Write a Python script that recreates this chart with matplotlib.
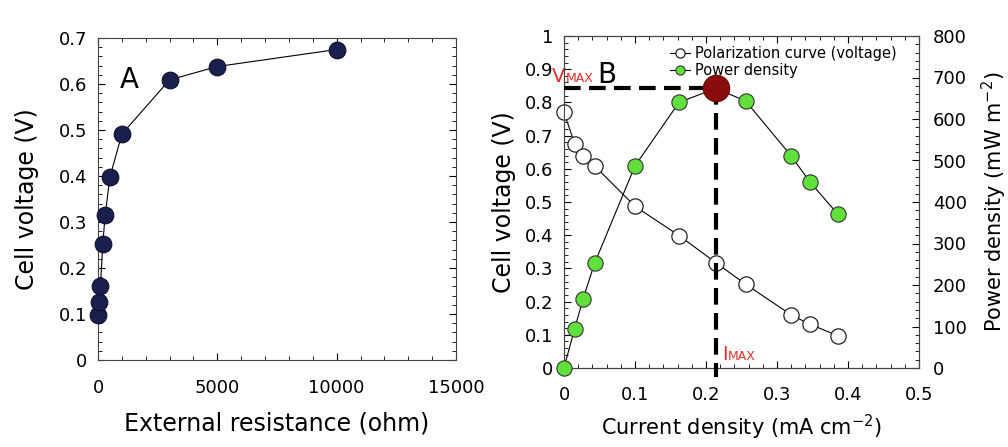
import matplotlib
matplotlib.use("Agg")
import matplotlib.pyplot as plt
from matplotlib.ticker import MultipleLocator, FuncFormatter

plt.rcParams['font.family'] = ['DejaVu Sans']
plt.rcParams['mathtext.default'] = 'regular'

# Panel A data
resistance = [20, 50, 100, 200, 300, 500, 1000, 3000, 5000, 10000]
cell_voltage_a = [0.097, 0.127, 0.160, 0.252, 0.315, 0.398, 0.491, 0.609, 0.638, 0.675]

# Panel B data
current = [0.0, 0.015, 0.027, 0.043, 0.100, 0.162, 0.214, 0.256, 0.320, 0.346, 0.386]
cell_voltage_b = [0.770, 0.676, 0.639, 0.609, 0.487, 0.399, 0.317, 0.252, 0.160, 0.132, 0.097]
power_density = [0, 95, 167, 252, 487, 640, 674, 643, 511, 449, 370]
I_MAX = 0.214
P_MAX = 674

fig = plt.figure(figsize=(10.08, 4.47), dpi=100)

# ---------------- Panel A ----------------
axA = fig.add_axes([98/1008, 1-360/447, 358/1008, 322/447])
axA.plot(resistance, cell_voltage_a, '-', color='black', lw=0.8, zorder=2)
axA.plot(resistance, cell_voltage_a, 'o', ms=12, mfc='#1b1f4e', mec='#0d0f2a', mew=0.8, zorder=3,
         clip_on=False)
axA.set_xlim(0, 15000)
axA.set_ylim(0, 0.7)
axA.xaxis.set_major_locator(MultipleLocator(5000))
axA.xaxis.set_minor_locator(MultipleLocator(1000))
axA.yaxis.set_major_locator(MultipleLocator(0.1))
axA.yaxis.set_minor_locator(MultipleLocator(0.02))
axA.yaxis.set_major_formatter(FuncFormatter(lambda v, p: '0' if abs(v) < 1e-9 else f'{v:.1f}'))
axA.tick_params(which='both', direction='in', top=True, right=True, labelsize=13)
axA.tick_params(which='major', length=5, pad=8)
axA.tick_params(axis='x', which='major', pad=14)
axA.tick_params(which='minor', length=3)
axA.set_xlabel('External resistance (ohm)', fontsize=17, labelpad=10)
axA.set_ylabel('Cell voltage (V)', fontsize=17)
axA.yaxis.set_label_coords(-0.165, 0.5)
axA.text(0.06, 0.87, 'A', transform=axA.transAxes, fontsize=20, va='center', ha='left')
for s in axA.spines.values():
    s.set_color('#444444')
    s.set_linewidth(0.8)

# ---------------- Panel B ----------------
axB = fig.add_axes([564/1008, 1-368/447, 355/1008, 332/447])
axP = axB.twinx()

lv, = axB.plot(current, cell_voltage_b, '-o', color='black', lw=0.8, ms=11, mfc='white',
               mec='#222222', mew=0.9, zorder=3, clip_on=False, label='Polarization curve (voltage)')
lp, = axP.plot(current, power_density, '-o', color='black', lw=0.8, ms=11, mfc='#5fe03a',
               mec='#333333', mew=0.8, zorder=3, clip_on=False, label='Power density')

# Maximum power point and guide lines
axP.plot([0, I_MAX], [P_MAX, P_MAX], '--', color='black', lw=3, dashes=(4, 2), zorder=4)
axP.plot([I_MAX, I_MAX], [P_MAX, -22], '--', color='black', lw=3, dashes=(4, 2), zorder=4,
         clip_on=False)
axP.plot([I_MAX], [P_MAX], 'o', ms=19, mfc='#8a0d0d', mec='#6a0505', mew=0.8, zorder=5)

axB.set_xlim(0, 0.5)
axB.set_ylim(0, 1)
axP.set_ylim(0, 800)
axB.xaxis.set_major_locator(MultipleLocator(0.1))
axB.xaxis.set_minor_locator(MultipleLocator(0.02))
axB.yaxis.set_major_locator(MultipleLocator(0.1))
axB.yaxis.set_minor_locator(MultipleLocator(0.02))
axP.yaxis.set_major_locator(MultipleLocator(100))
axP.yaxis.set_minor_locator(MultipleLocator(20))
fmt = FuncFormatter(lambda v, p: f'{v:g}')
axB.xaxis.set_major_formatter(fmt)
axB.yaxis.set_major_formatter(fmt)
axB.tick_params(which='both', direction='in', top=True, labelsize=13)
axB.tick_params(which='major', length=5, pad=8)
axB.tick_params(axis='x', which='major', pad=13)
axB.tick_params(which='minor', length=3)
axP.tick_params(which='both', direction='in', labelsize=13)
axP.tick_params(which='major', length=5, pad=10)
axP.tick_params(which='minor', length=3)
axB.set_xlabel('Current density (mA cm$^{-2}$)', fontsize=15, labelpad=6)
axB.set_ylabel('Cell voltage (V)', fontsize=17)
axB.yaxis.set_label_coords(-0.135, 0.5)
axP.set_ylabel('Power density (mW m$^{-2}$)', fontsize=15)
axP.yaxis.set_label_coords(1.172, 0.5)
for a in (axB, axP):
    for s in a.spines.values():
        s.set_color('#444444')
        s.set_linewidth(0.8)

axB.legend(handles=[lv, lp], loc='upper left', bbox_to_anchor=(0.27, 1.0), frameon=False,
           fontsize=10.5, handlelength=1.4, handletextpad=0.3, labelspacing=0.15,
           markerscale=0.6, borderaxespad=0.3)

axB.text(-0.033, 0.862, 'V', transform=axB.transAxes, color='#e0302a', fontsize=14,
         ha='left', va='baseline')
axB.text(0.004, 0.862, 'MAX', transform=axB.transAxes, color='#e0302a', fontsize=9,
         ha='left', va='baseline')
axB.text(0.095, 0.857, 'B', transform=axB.transAxes, color='black', fontsize=20,
         ha='left', va='baseline')
axB.text(0.445, 0.025, 'I', transform=axB.transAxes, color='#e0302a', fontsize=14,
         ha='left', va='baseline')
axB.text(0.462, 0.025, 'MAX', transform=axB.transAxes, color='#e0302a', fontsize=9,
         ha='left', va='baseline')

fig.savefig('out.png', dpi=100, facecolor='white')
